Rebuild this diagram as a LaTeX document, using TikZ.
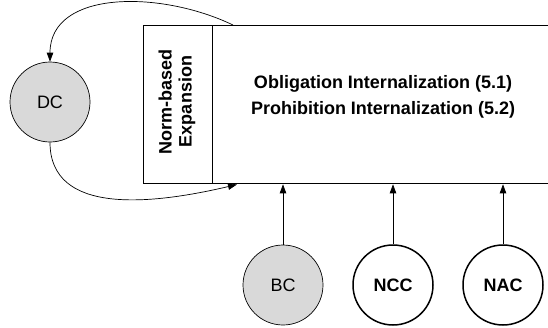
\documentclass[tikz,border=0pt]{standalone}
\usepackage{fontspec}
\setmainfont{Liberation Sans}
\usetikzlibrary{arrows.meta}
\definecolor{cgray}{HTML}{D9D9D9}
\begin{document}
\begin{tikzpicture}[x=1pt,y=-1pt,
  every node/.style={font=\fontsize{18}{20}\selectfont},
  boxst/.style={draw, line width=1.3pt, inner sep=0pt, anchor=north west},
  circg/.style={circle, draw, line width=0.7pt, fill=cgray, minimum size=80pt, inner sep=0pt},
  circw/.style={circle, draw, line width=1.5pt, fill=white, minimum size=80pt, inner sep=0pt, font=\fontsize{18}{20}\selectfont\bfseries},
  conn/.style={line width=0.7pt, -{Triangle[length=9pt,width=6.5pt]}},
  lbl/.style={font=\fontsize{18}{20}\selectfont\bfseries}
]
\useasboundingbox (0,0) rectangle (548,327);
\clip (0,0) rectangle (548,327);
\node[boxst, minimum width=360pt, minimum height=158pt] (main) at (212,25) {};
\node[boxst, minimum width=69pt, minimum height=158pt] (nbe) at (143,25) {};
\node[lbl, rotate=90, align=center, inner sep=0pt] (nbetext) at (177,101.5) {Norm-based\\Expansion};
\node[lbl, anchor=base, inner sep=0pt] (ob) at (383,88) {Obligation Internalization (5.1)};
\node[lbl, anchor=base, inner sep=0pt] (pr) at (383,114) {Prohibition Internalization (5.2)};
\node[circg] (dc) at (50,102) {DC};
\node[circg] (bc) at (283,285) {BC};
\node[circw] (ncc) at (393,285) {NCC};
\node[circw] (nac) at (503,285) {NAC};
\coordinate (tstart) at (233,25);
\coordinate (bend) at (237,184.5);
\draw[conn] (tstart) .. controls (160,-10) and (50,-10) .. (dc.north);
\draw[conn] (dc.south) .. controls (50,215) and (150,205) .. (bend);
\draw[conn] (bc.north) -- (bc.north |- main.south);
\draw[conn] (ncc.north) -- (ncc.north |- main.south);
\draw[conn] (nac.north) -- (nac.north |- main.south);
\end{tikzpicture}
\end{document}
